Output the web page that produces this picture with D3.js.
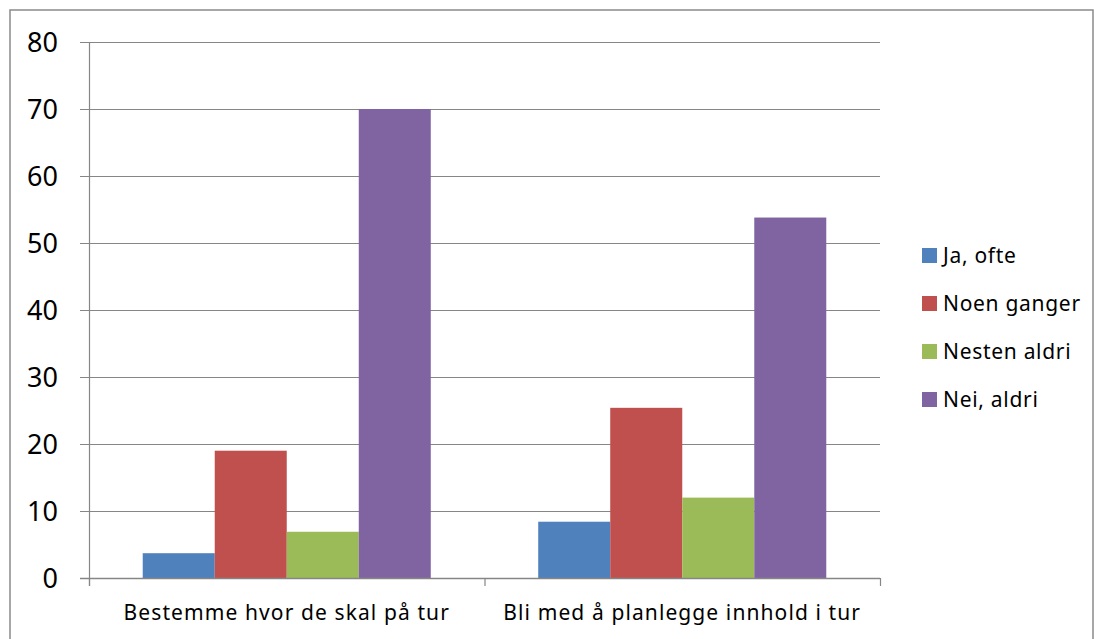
<!DOCTYPE html>
<html>
<head>
<meta charset="utf-8">
<script src="https://cdn.jsdelivr.net/npm/d3@7"></script>
<style>
  html, body { margin: 0; padding: 0; background: #fff; }
  svg { display: block; font-family: "Noto Sans", "Open Sans", sans-serif; }
</style>
</head>
<body>
<svg id="chart" width="1094" height="639"></svg>
<script>
const categories = ["Bestemme hvor de skal på tur", "Bli med å planlegge innhold i tur"];
const seriesNames = ["Ja, ofte", "Noen ganger", "Nesten aldri", "Nei, aldri"];
const jaOfte = [3.7, 8.4];
const noenGanger = [19.0, 25.4];
const nestenAldri = [6.9, 12.0];
const neiAldri = [70.0, 53.8];
const colors = ["#4F81BD", "#C0504D", "#9BBB59", "#8064A2"];
const yTicks = [0, 10, 20, 30, 40, 50, 60, 70, 80];

const seriesValues = [jaOfte, noenGanger, nestenAldri, neiAldri];

(function () {
const svg = d3.select("#chart");
const pLeft = 89, pRight = 880, pTop = 42, pBottom = 578;

// outer frame
svg.append("path")
  .attr("d", "M10,639 L10,10 L1093,10 L1093,639")
  .attr("fill", "none").attr("stroke", "#8a8a8a").attr("stroke-width", 1.5);

const y = d3.scaleLinear().domain([0, 80]).range([pBottom, pTop]);
const x0 = d3.scaleBand().domain(categories).range([pLeft, pRight]).paddingInner(0).paddingOuter(0);
const x1 = d3.scaleBand().domain(seriesNames).range([0, x0.bandwidth()]).paddingInner(0).paddingOuter(0.746);

// gridlines
svg.append("g").selectAll("line").data(yTicks).join("line")
  .attr("x1", pLeft - 9).attr("x2", pRight)
  .attr("y1", d => Math.round(y(d)) + 0.5).attr("y2", d => Math.round(y(d)) + 0.5)
  .attr("stroke", "#868686").attr("stroke-width", 1.2);

svg.append("g").selectAll("text").data(yTicks).join("text")
  .attr("x", 58).attr("y", d => y(d)).attr("dy", "0.36em")
  .attr("text-anchor", "end").attr("font-size", 27).attr("fill", "#000")
  .text(d => d);

// bars
const groups = svg.append("g").selectAll("g").data(categories).join("g")
  .attr("transform", d => `translate(${x0(d)},0)`);
groups.selectAll("rect")
  .data((d, i) => seriesNames.map((s, j) => ({ s, v: seriesValues[j][i], c: colors[j] })))
  .join("rect")
  .attr("x", d => x1(d.s)).attr("width", x1.bandwidth())
  .attr("y", d => y(d.v)).attr("height", d => y(0) - y(d.v))
  .attr("fill", d => d.c);

// axes lines
svg.append("line").attr("x1", pLeft + 0.5).attr("x2", pLeft + 0.5).attr("y1", pTop).attr("y2", pBottom + 8)
  .attr("stroke", "#868686").attr("stroke-width", 1.2);
svg.append("line").attr("x1", pLeft - 9).attr("x2", pRight).attr("y1", pBottom + 0.5).attr("y2", pBottom + 0.5)
  .attr("stroke", "#868686").attr("stroke-width", 1.5);
const catTicks = [pLeft, pLeft + x0.bandwidth(), pRight];
svg.append("g").selectAll("line").data(catTicks).join("line")
  .attr("x1", d => d + 0.5).attr("x2", d => d + 0.5).attr("y1", pBottom).attr("y2", pBottom + 8)
  .attr("stroke", "#868686").attr("stroke-width", 1.2);

// category labels
svg.append("g").selectAll("text").data(categories).join("text")
  .attr("x", d => x0(d) + x0.bandwidth() / 2).attr("y", 620)
  .attr("text-anchor", "middle").attr("font-size", 21).attr("letter-spacing", 1.1).attr("fill", "#000")
  .text(d => d);

// legend
const legend = svg.append("g").selectAll("g").data(seriesNames).join("g")
  .attr("transform", (d, i) => `translate(922,${248 + i * 48})`);
legend.append("rect").attr("width", 15).attr("height", 15).attr("fill", (d, i) => colors[i]);
legend.append("text").attr("x", 21).attr("y", 15).attr("font-size", 21).attr("letter-spacing", 0.7).attr("fill", "#000").text(d => d);
})();
</script>
</body>
</html>
